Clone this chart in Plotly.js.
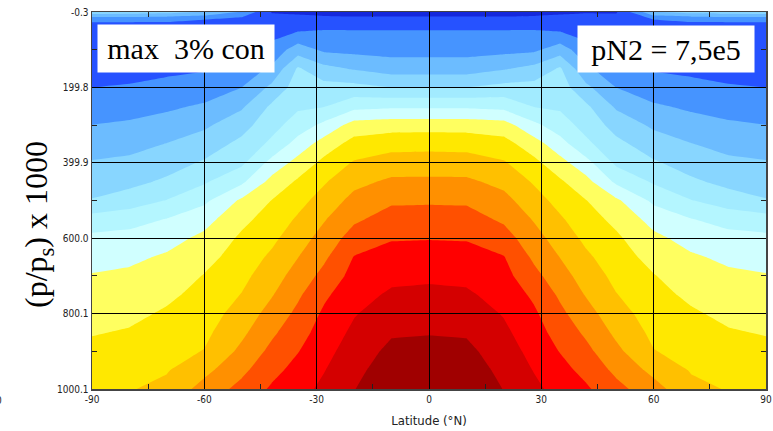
<!DOCTYPE html>
<html><head><meta charset="utf-8">
<script src="https://cdn.plot.ly/plotly-3.0.1.min.js"></script>
<style>html,body{margin:0;padding:0;background:#fff}#chart{width:773px;height:431px}</style>
</head><body><div id="chart"></div>
<script>
// Latitude columns (deg N) and pressure rows ((p/ps) x 1000)
const latitudes = [-90,-80,-70,-60,-50,-42,-35,-28,-20,-10,0,10,20,28,35,42,50,60,70,80,90];
const pressures = [-0.3,20,50,100,150,200,250,300,350,400,450,500,550,600,650,700,750,800,850,900,950,1000.1];

// Contour band index, one array per latitude (top -> bottom)
const colLatM90 = [4.2,1.6,1.15,1.3,1.42,1.50,2.01,2.51,3.05,3.58,4.05,4.56,5.93,6.73,7.16,7.56,7.85,8.15,8.44,8.74,9.0,9.3];
const colLatM80 = [4.1,1.6,1.15,1.3,1.42,1.52,2.09,2.65,3.19,3.71,4.22,4.98,6.13,6.83,7.30,7.68,7.98,8.28,8.58,8.87,9.15,9.44];
const colLatM70 = [3.9,1.6,1.12,1.26,1.39,1.64,2.31,2.93,3.53,4.07,4.67,5.54,6.55,7.14,7.63,7.97,8.32,8.62,8.89,9.16,9.43,9.75];
const colLatM60 = [3.4,1.5,1.1,1.25,1.42,1.89,2.64,3.33,3.98,4.62,5.38,6.29,7.14,7.74,8.16,8.55,8.79,9.03,9.27,9.54,10.22,10.89];
const colLatM50 = [2.4,1.1,1.16,1.43,1.93,2.5,3.35,4.12,4.77,5.31,6.30,7.68,8.26,8.67,8.96,9.24,9.54,9.91,10.29,10.74,11.27,11.81];
const colLatM42 = [0.46,0.73,1.13,1.84,2.67,3.74,4.67,5.14,5.73,6.83,7.83,8.52,8.90,9.28,9.67,10.05,10.43,10.87,11.32,11.76,12.20,12.64];
const colLatM35 = [0.36,0.80,1.46,3.02,4.63,4.99,5.34,5.97,6.90,7.86,8.64,9.16,9.64,10.06,10.48,10.91,11.34,11.73,12.10,12.46,12.83,13.15];
const colLatM28 = [0.21,0.78,1.56,2.31,3.80,4.86,5.45,6.76,7.96,8.77,9.40,9.92,10.43,10.88,11.32,11.80,12.32,12.67,12.93,13.20,13.46,13.72];
const colLatM20 = [0.15,0.74,1.55,2.22,3.41,4.82,6.17,7.94,8.87,9.60,10.23,10.80,11.34,11.94,12.54,12.83,13.13,13.43,13.70,13.96,14.22,14.47];
const colLatM10 = [0.15,0.74,1.55,2.14,3.04,4.5,6.32,8.08,9.14,9.96,10.68,11.35,11.91,12.43,12.85,13.26,13.65,14.02,14.39,14.75,15.05,15.2];
const colLat0   = [0.15,0.74,1.55,2.14,3.04,4.5,6.32,8.08,9.18,9.99,10.68,11.38,11.93,12.46,12.90,13.33,13.72,14.09,14.45,14.80,15.10,15.30];
const colLatP10 = [0.15,0.74,1.55,2.14,3.04,4.5,6.32,8.08,9.14,9.96,10.68,11.35,11.91,12.43,12.85,13.26,13.65,14.02,14.39,14.75,15.05,15.2];
const colLatP20 = [0.15,0.74,1.55,2.22,3.41,4.82,6.17,7.94,8.87,9.60,10.23,10.80,11.34,11.94,12.54,12.83,13.13,13.43,13.70,13.96,14.22,14.47];
const colLatP28 = [0.21,0.78,1.56,2.31,3.80,4.86,5.45,6.76,7.96,8.77,9.40,9.92,10.43,10.88,11.32,11.80,12.32,12.67,12.93,13.20,13.46,13.72];
const colLatP35 = [0.36,0.80,1.46,3.02,4.63,4.99,5.34,5.97,6.90,7.86,8.64,9.16,9.64,10.06,10.48,10.91,11.34,11.73,12.10,12.46,12.83,13.15];
const colLatP42 = [0.46,0.73,1.13,1.84,2.67,3.74,4.67,5.14,5.73,6.83,7.83,8.52,8.90,9.28,9.67,10.05,10.43,10.87,11.32,11.76,12.20,12.64];
const colLatP50 = [0.4,0.9,1.16,1.43,1.93,2.5,3.35,4.12,4.77,5.31,6.30,7.68,8.26,8.67,8.96,9.24,9.54,9.91,10.29,10.74,11.27,11.81];
const colLatP60 = [3.4,1.5,1.1,1.25,1.42,1.89,2.64,3.33,3.98,4.62,5.38,6.29,7.14,7.74,8.16,8.55,8.79,9.03,9.27,9.54,10.22,10.89];
const colLatP70 = [3.9,1.6,1.12,1.26,1.39,1.64,2.31,2.93,3.53,4.07,4.67,5.54,6.55,7.14,7.63,7.97,8.32,8.62,8.89,9.16,9.43,9.75];
const colLatP80 = [4.1,1.6,1.15,1.3,1.42,1.52,2.09,2.65,3.19,3.71,4.22,4.98,6.13,6.83,7.30,7.68,7.98,8.28,8.58,8.87,9.15,9.44];
const colLatP90 = [4.2,1.6,1.15,1.3,1.42,1.50,2.01,2.51,3.05,3.58,4.05,4.56,5.93,6.73,7.16,7.56,7.85,8.15,8.44,8.74,9.0,9.3];

const yTickVals = [-0.3,199.8,399.9,600.0,800.1,1000.1];
const yTickText = ['-0.3','199.8','399.9','600.0','800.1','1000.1'];
const yMinorVals = [99.75,299.85,500,700.05,900.1];
const xTickVals = [-90,-60,-30,0,30,60,90];
const xTickText = ['-90','-60','-30','0','30','60','90'];
const xMinorVals = [-75,-45,-15,15,45,75];

const bandColors = ['#1428dc','#2652ff','#4694ff','#6cbcff','#88d6ff','#a2ebff','#b4f6ff','#d0ffff',
                    '#ffff60','#ffe800','#ffc000','#ff9000','#ff5000','#ff0000','#d40000','#a00000'];

const zColumns = [colLatM90,colLatM80,colLatM70,colLatM60,colLatM50,colLatM42,colLatM35,colLatM28,colLatM20,colLatM10,
  colLat0,colLatP10,colLatP20,colLatP28,colLatP35,colLatP42,colLatP50,colLatP60,colLatP70,colLatP80,colLatP90];

const nB = bandColors.length - 1;
const colorscale = [];
bandColors.forEach((c, k) => {
  colorscale.push([Math.max(0, (k - 0.5) / nB), c]);
  colorscale.push([Math.min(1, (k + 0.5) / nB), c]);
});

const tickFont = {family: 'DejaVu Sans Condensed, DejaVu Sans, sans-serif', size: 10, color: '#222'};
const serif = 'Liberation Serif, Times New Roman, serif';

const trace = {
  type: 'contour', x: latitudes, y: pressures, z: zColumns, transpose: true,
  zmin: 0, zmax: nB, zauto: false,
  contours: {start: 0.5, end: nB - 0.5, size: 1, coloring: 'fill', showlines: false},
  line: {width: 0, smoothing: 0},
  colorscale: colorscale, showscale: false, hoverinfo: 'skip'
};

const layout = {
  width: 773, height: 431,
  margin: {l: 92, r: 7, t: 12, b: 42},
  paper_bgcolor: '#fff', plot_bgcolor: '#fff',
  showlegend: false,
  xaxis: {
    range: [-90, 90], tickmode: 'array', tickvals: xTickVals, ticktext: xTickText,
    ticks: 'inside', ticklen: 377, tickwidth: 1, tickcolor: '#000', mirror: 'ticks',
    showline: true, linecolor: '#444', linewidth: 1.5, showgrid: false, zeroline: false,
    layer: 'above traces', tickfont: tickFont,
    minor: {tickmode: 'array', tickvals: xMinorVals, ticks: 'inside', ticklen: 5, tickwidth: 1, tickcolor: '#222', showgrid: false},
    title: {text: 'Latitude (°N)', font: {family: 'DejaVu Sans Condensed, DejaVu Sans, sans-serif', size: 13, color: '#222'}, standoff: 12}
  },
  yaxis: {
    range: [1000.1, -0.3], tickmode: 'array', tickvals: yTickVals, ticktext: yTickText,
    ticks: 'inside', ticklen: 674, tickwidth: 1, tickcolor: '#000', mirror: 'ticks',
    showline: true, linecolor: '#444', linewidth: 1.5, showgrid: false, zeroline: false,
    layer: 'above traces', tickfont: tickFont,
    minor: {tickmode: 'array', tickvals: yMinorVals, ticks: 'inside', ticklen: 5, tickwidth: 1, tickcolor: '#222', showgrid: false}
  },
  annotations: [
    {text: '(p/p<sub>s</sub>) x 1000', textangle: -90, xref: 'paper', yref: 'paper',
     x: (38 - 92) / 674, y: (389 - 225) / 377, xanchor: 'center', yanchor: 'middle', showarrow: false,
     font: {family: serif, size: 32, color: '#000'}},
    {text: 'max&nbsp;&nbsp;3% con', xref: 'paper', yref: 'paper',
     x: (97 - 92) / 674, y: 1 - (24 - 12) / 377, xanchor: 'left', yanchor: 'top', showarrow: false,
     width: 176, height: 47, bgcolor: '#fff', borderpad: 0, align: 'center',
     font: {family: serif, size: 30, color: '#000'}},
    {text: 'pN2 = 7,5e5', xref: 'paper', yref: 'paper',
     x: (577 - 92) / 674, y: 1 - (25 - 12) / 377, xanchor: 'left', yanchor: 'top', showarrow: false,
     width: 176, height: 46, bgcolor: '#fff', borderpad: 0, align: 'center',
     font: {family: serif, size: 30, color: '#000'}},
    {text: '0', xref: 'paper', yref: 'paper', x: (-1 - 92) / 674, y: (389 - 400) / 377,
     xanchor: 'center', yanchor: 'middle', showarrow: false, font: tickFont}
  ]
};

Plotly.newPlot('chart', [trace], layout, {staticPlot: true, displayModeBar: false});
</script></body></html>
